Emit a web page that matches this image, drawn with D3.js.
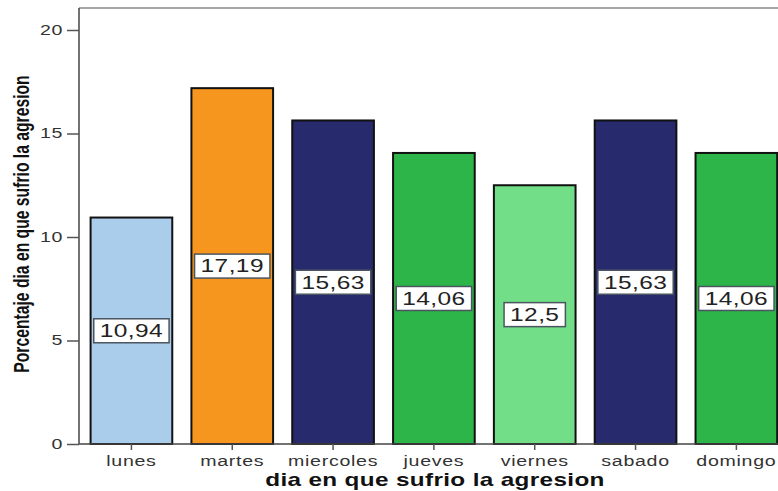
<!DOCTYPE html>
<html><head><meta charset="utf-8">
<script src="https://cdn.jsdelivr.net/npm/d3@7/dist/d3.min.js"></script>
<style>body{margin:0;background:#fff}svg{display:block}</style>
</head><body>
<svg id="chart" width="778" height="491"></svg>
<script>
const days = ["lunes","martes","miercoles","jueves","viernes","sabado","domingo"];
const percents = [10.94, 17.19, 15.63, 14.06, 12.5, 15.63, 14.06];
const valueLabels = ["10,94","17,19","15,63","14,06","12,5","15,63","14,06"];
const barColors = ["#abcdec","#f7961e","#282a6e","#2db54a","#72de88","#282a6e","#2db54a"];
const yTicks = [0, 5, 10, 15, 20];

const svg = d3.select("#chart");
const plotLeft = 79, plotRight = 799, plotTop = 8, plotBottom = 444;
const FONT = "Liberation Sans, Arial, sans-serif";
const WIDEN = 1.4; // glyphs are drawn horizontally widened

const x = d3.scaleBand().domain(days).range([plotLeft, plotLeft + 101.4 * 7]).paddingInner(0.19).paddingOuter(0.19 / 2 + 0.02);
const y = d3.scaleLinear().domain([0, 20]).range([plotBottom, 30]);

// frame
svg.append("line").attr("x1", plotLeft).attr("x2", plotRight).attr("y1", plotTop).attr("y2", plotTop)
  .attr("stroke", "#8a8a8a").attr("stroke-width", 1.5);
svg.append("line").attr("x1", plotLeft).attr("x2", plotLeft).attr("y1", plotTop).attr("y2", plotBottom)
  .attr("stroke", "#444").attr("stroke-width", 1.5);

// bars
svg.append("g").selectAll("rect").data(days).join("rect")
  .attr("x", d => x(d)).attr("width", x.bandwidth())
  .attr("y", (d, i) => y(percents[i])).attr("height", (d, i) => plotBottom - y(percents[i]))
  .attr("fill", (d, i) => barColors[i]).attr("stroke", "#111").attr("stroke-width", 2);

// y axis
const yAxis = svg.append("g").attr("transform", `translate(${plotLeft},0)`)
  .call(d3.axisLeft(y).tickValues(yTicks).tickSize(12).tickPadding(4).tickFormat(d3.format("d")));
yAxis.select(".domain").remove();
yAxis.selectAll("line").attr("stroke", "#555").attr("stroke-width", 1.5);
yAxis.selectAll("text").attr("x", 0).attr("transform", `translate(-16,0) scale(${WIDEN},1)`)
  .attr("font-family", FONT).attr("font-size", 14).attr("fill", "#333").attr("letter-spacing", 0.4);

// x axis
const xAxis = svg.append("g").attr("transform", `translate(0,${plotBottom})`)
  .call(d3.axisBottom(x).tickSize(6).tickPadding(6));
xAxis.select(".domain").attr("stroke", "#444").attr("stroke-width", 1.5).attr("d", `M${plotLeft},0H${plotRight}`);
xAxis.selectAll("line").attr("stroke", "#555").attr("stroke-width", 1.5);
xAxis.selectAll("text").attr("transform", `scale(${WIDEN},1)`)
  .attr("font-family", FONT).attr("font-size", 14).attr("fill", "#333").attr("letter-spacing", 0.5);

// value labels
const lab = svg.append("g").selectAll("g").data(days).join("g")
  .attr("transform", (d, i) => `translate(${x(d) + x.bandwidth() / 2},${y(percents[i] / 2)})`);
lab.append("text").text((d, i) => valueLabels[i])
  .attr("text-anchor", "middle").attr("dy", "0.36em").attr("transform", `scale(${WIDEN},1)`)
  .attr("font-family", FONT).attr("font-size", 17.5).attr("fill", "#222").attr("letter-spacing", 0.3);
lab.each(function() {
  const g = d3.select(this);
  const b = g.select("text").node().getBBox();
  const w = b.width * WIDEN + 12;
  g.insert("rect", "text").attr("x", -w / 2).attr("y", -12).attr("width", w).attr("height", 24)
    .attr("fill", "#fff").attr("stroke", "#4a5560").attr("stroke-width", 1.5);
});

// axis titles
svg.append("text").text("dia en que sufrio la agresion")
  .attr("transform", `translate(435,486) scale(1.39,1)`).attr("text-anchor", "middle")
  .attr("font-family", FONT).attr("font-weight", "bold")
  .attr("font-size", 17.5).attr("letter-spacing", 0.25).attr("fill", "#111");
svg.append("text").text("Porcentaje dia en que sufrio la agresion")
  .attr("transform", "translate(29,224) rotate(-90) scale(1,1.35)").attr("text-anchor", "middle")
  .attr("font-family", FONT).attr("font-weight", "bold")
  .attr("font-size", 15.7).attr("fill", "#111");
</script>
</body></html>
